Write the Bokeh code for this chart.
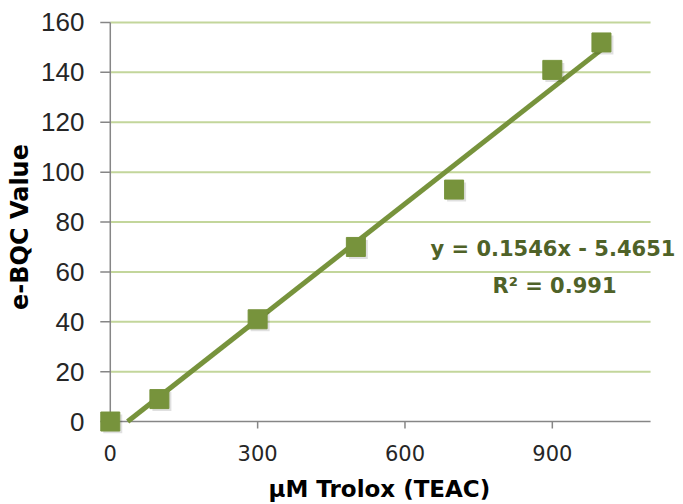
import numpy as np
from bokeh.plotting import figure
from bokeh.models import Range1d, Label, FixedTicker, Title
from bokeh.embed import file_html
from bokeh.resources import INLINE

# ---- data ----
trolox_um = [0, 100, 300, 500, 700, 900, 1000]
ebqc_value = [0, 9, 41, 70, 93, 141, 152]
slope = 0.1546
intercept = -5.4651
r_squared = 0.991
x_ticks = [0, 300, 600, 900]
y_ticks = [0, 20, 40, 60, 80, 100, 120, 140, 160]
x_axis_end = 1100
x_title = "µM Trolox  (TEAC)"
y_title = "e-BQC Value"
eq_line1 = "y = 0.1546x - 5.4651"
eq_line2 = "R² = 0.991"

GREEN = "#77933C"
GRID = "#C3D69B"
AXIS = "#868686"
EQ = "#4F6228"
TXT = "#262626"

# frame padded slightly so the markers at the origin are not clipped
X0, X1 = -24, 1163
Y0, Y1 = -4.8, 160.8
FW, FH = 583, 413
px_x = FW / (X1 - X0)
px_y = FH / (Y1 - Y0)

p = figure(frame_width=FW, frame_height=FH, output_backend="svg", toolbar_location=None,
           x_range=Range1d(X0, X1), y_range=Range1d(Y0, Y1),
           min_border_left=98, min_border_right=2, min_border_top=20, min_border_bottom=60)
p.outline_line_color = None
p.xgrid.visible = False
p.ygrid.visible = False

for ax in (p.xaxis[0], p.yaxis[0]):
    ax.axis_line_color = None
    ax.major_tick_line_color = None
    ax.minor_tick_line_color = None
    ax.major_tick_out = 0
    ax.major_tick_in = 0
    ax.major_label_text_color = TXT
p.xaxis.ticker = FixedTicker(ticks=x_ticks)
p.yaxis.ticker = FixedTicker(ticks=y_ticks)
p.xaxis.major_label_standoff = 11
p.xaxis.major_label_text_font = "DejaVu Sans"
p.xaxis.major_label_text_font_size = "21px"
p.yaxis.major_label_standoff = 14
p.yaxis.major_label_text_font = "Liberation Sans"
p.yaxis.major_label_text_font_size = "26px"

p.yaxis.axis_label = y_title
p.yaxis.axis_label_text_font = "DejaVu Sans"
p.yaxis.axis_label_text_font_style = "bold"
p.yaxis.axis_label_text_font_size = "24px"
p.yaxis.axis_label_text_color = "black"
p.yaxis.axis_label_standoff = 4

p.add_layout(Title(text=x_title, align="left", offset=170, standoff=20,
                   text_font="DejaVu Sans", text_font_style="bold",
                   text_font_size="23px", text_color="black"), "below")

# gridlines and axis lines/ticks limited to the axis extent
grid_y = y_ticks[1:]
p.segment(x0=[x_ticks[0]] * len(grid_y), y0=grid_y, x1=[x_axis_end] * len(grid_y), y1=grid_y,
          line_color=GRID, line_width=2)
p.segment(x0=[x_ticks[0], x_ticks[0]], y0=[y_ticks[0], y_ticks[0]],
          x1=[x_axis_end, x_ticks[0]], y1=[y_ticks[0], y_ticks[-1]],
          line_color=AXIS, line_width=1.5)
p.segment(x0=[x_ticks[0] - 10 / px_x] * len(y_ticks), y0=y_ticks,
          x1=[x_ticks[0]] * len(y_ticks), y1=y_ticks, line_color=AXIS, line_width=1.5)
p.segment(x0=x_ticks, y0=[y_ticks[0]] * len(x_ticks),
          x1=x_ticks, y1=[y_ticks[0] - 7 / px_y] * len(x_ticks), line_color=AXIS, line_width=1.5)

# trendline (Excel linear fit), clipped at y = 0
tx = np.array([-intercept / slope, max(trolox_um)])
ty = slope * tx + intercept
p.line(tx, ty, line_color=GREEN, line_width=5)

# soft marker shadow, then markers
p.scatter(np.array(trolox_um) + 2.5 / px_x, np.array(ebqc_value) - 2.5 / px_y,
          marker="square", size=19, fill_color="black", fill_alpha=0.12, line_color=None)
p.scatter(trolox_um, ebqc_value, marker="square", size=19,
          fill_color=GREEN, line_color=GREEN)

p.add_layout(Label(x=(430 - 98) / px_x + X0, y=69.0, text=eq_line1, text_align="left",
                   text_baseline="alphabetic", text_color=EQ,
                   text_font="DejaVu Sans", text_font_style="bold",
                   text_font_size="21px"))
p.add_layout(Label(x=(492 - 98) / px_x + X0, y=54.5, text=eq_line2, text_align="left",
                   text_baseline="alphabetic", text_color=EQ,
                   text_font="DejaVu Sans", text_font_style="bold",
                   text_font_size="21px"))

open("out.html", "w").write(file_html(p, INLINE))
